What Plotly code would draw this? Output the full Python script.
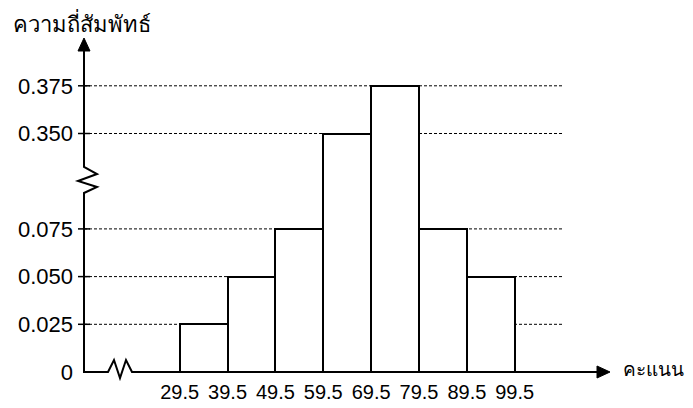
import plotly.graph_objects as go

# ---- data ----
bounds = [29.5, 39.5, 49.5, 59.5, 69.5, 79.5, 89.5, 99.5]
rel_freq = [0.025, 0.050, 0.075, 0.350, 0.375, 0.075, 0.050]
y_ticks = [0, 0.025, 0.050, 0.075, 0.350, 0.375]
y_tick_labels = ["0", "0.025", "0.050", "0.075", "0.350", "0.375"]
x_tick_labels = ["29.5", "39.5", "49.5", "59.5", "69.5", "79.5", "89.5", "99.5"]
y_title = "ความถี่สัมพัทธ์"
x_title = "คะแนน"

# broken y-axis: values above the break are shifted down
BREAK_LO, BREAK_SHIFT = 0.1, 0.225
def ydisp(v):
    return v - BREAK_SHIFT if v > BREAK_LO else v

OFF = 8  # browser body margin
W, H = 693 - OFF, 408 - OFF
# plot area in reference-screenshot pixels
L, R, T, B = 84, 610, 38, 372
X0 = 9.5
PPX = (515 - 180) / 70.0
PPY = 47.7 / 0.025
XMAX = X0 + (R - L) / PPX
YMAX = (B - T) / PPY

def px(a):
    return (a - L) / (R - L)
def py(b):
    return (B - b) / (B - T)

centers = [(a + b) / 2 for a, b in zip(bounds[:-1], bounds[1:])]
widths = [b - a for a, b in zip(bounds[:-1], bounds[1:])]
disp = [ydisp(v) for v in rel_freq]

fig = go.Figure()
fig.add_trace(go.Bar(
    x=centers, y=disp, width=widths,
    marker=dict(color="white", line=dict(color="black", width=2)),
    hoverinfo="skip",
))

shapes = []
# dashed gridlines
for v in y_ticks[1:]:
    shapes.append(dict(type="line", xref="paper", yref="y", layer="below",
                       x0=px(L), x1=px(562), y0=ydisp(v), y1=ydisp(v),
                       line=dict(color="black", width=1, dash="3px,2px")))
# tick marks on y axis
for v in y_ticks[1:]:
    shapes.append(dict(type="line", xref="paper", yref="y",
                       x0=px(78), x1=px(90), y0=ydisp(v), y1=ydisp(v),
                       line=dict(color="black", width=1.5)))

def path(pts):
    return "M " + " L ".join(f"{px(a)},{py(b)}" for a, b in pts)

# y axis with zigzag break
yaxis_pts = [(84, 50), (84, 167), (97, 174), (78, 181), (97, 187), (84, 193), (84, 373)]
shapes.append(dict(type="path", xref="paper", yref="paper", path=path(yaxis_pts),
                   line=dict(color="black", width=2)))
# x axis with zigzag break
xaxis_pts = [(83, 372), (108, 372), (114, 360), (120, 378), (126, 360), (132, 372), (598, 372)]
shapes.append(dict(type="path", xref="paper", yref="paper", path=path(xaxis_pts),
                   line=dict(color="black", width=2)))
# arrowheads
shapes.append(dict(type="path", xref="paper", yref="paper",
                   path=path([(84, 38), (78, 51), (90, 51)]) + " Z",
                   fillcolor="black", line=dict(color="black", width=1)))
shapes.append(dict(type="path", xref="paper", yref="paper",
                   path=path([(610, 372), (597, 366), (597, 378)]) + " Z",
                   fillcolor="black", line=dict(color="black", width=1)))

annotations = [
    dict(text=y_title, x=px(11), y=py(23), xref="paper", yref="paper",
         xanchor="left", yanchor="middle", showarrow=False,
         font=dict(size=22, color="black")),
    dict(text=x_title, x=px(621), y=py(369), xref="paper", yref="paper",
         xanchor="left", yanchor="middle", showarrow=False,
         font=dict(size=19, color="black")),
]

fig.update_layout(
    width=W, height=H,
    margin=dict(l=L - OFF, r=W - (R - OFF), t=T - OFF, b=H - (B - OFF), pad=0, autoexpand=False),
    plot_bgcolor="white", paper_bgcolor="white",
    showlegend=False,
    font=dict(family="Noto Sans, Liberation Sans, Arial, sans-serif", color="black"),
    shapes=shapes, annotations=annotations,
    bargap=0,
    xaxis=dict(range=[X0, XMAX], showgrid=False, zeroline=False, showline=False,
               tickvals=bounds, ticktext=x_tick_labels, ticks="",
               tickfont=dict(size=20, family="Liberation Sans, Arial, sans-serif"),
               ticklabelstandoff=6, fixedrange=True, automargin=False),
    yaxis=dict(range=[0, YMAX], showgrid=False, zeroline=False, showline=False,
               tickvals=[ydisp(v) for v in y_ticks], ticktext=y_tick_labels, ticks="",
               tickfont=dict(size=22, family="Liberation Sans, Arial, sans-serif"),
               ticklabelstandoff=10, fixedrange=True, automargin=False),
)

fig.write_html("out.html")
